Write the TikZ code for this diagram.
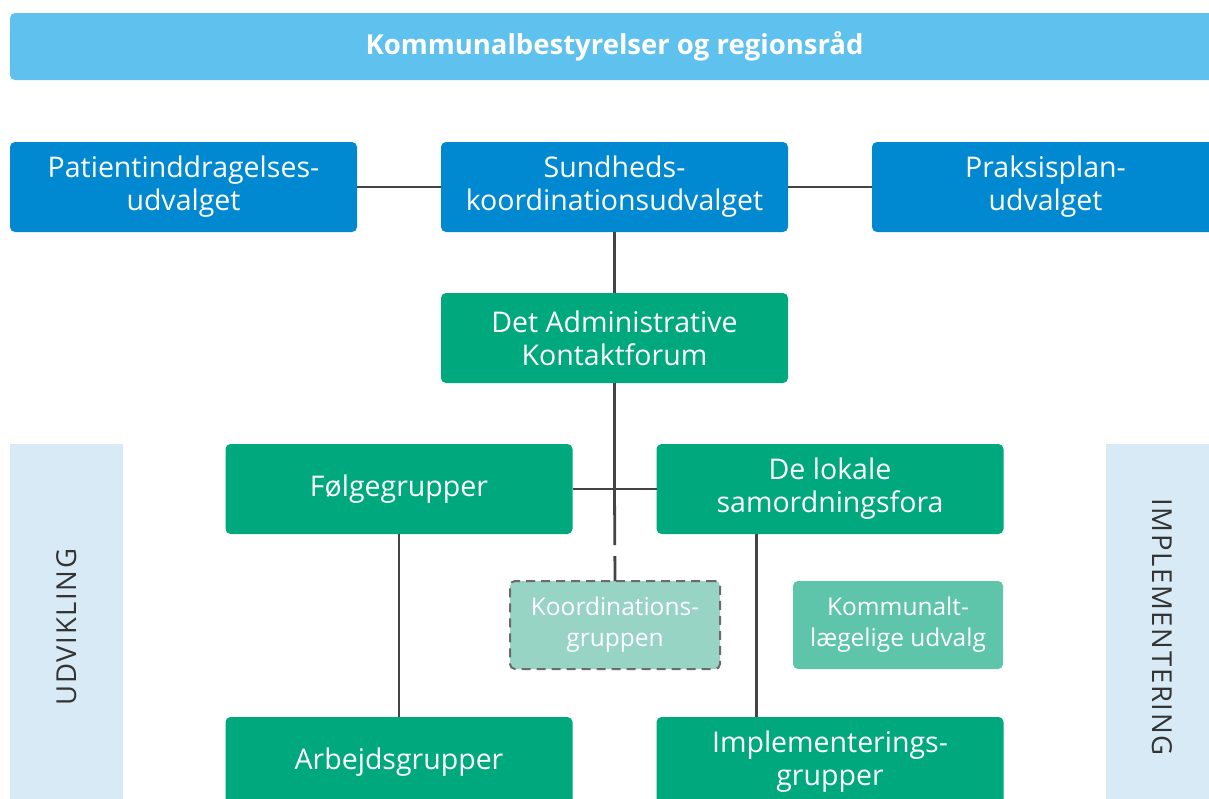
\documentclass[tikz,border=0pt]{standalone}
\usepackage{fontspec}
\setmainfont{Open Sans}
\newfontfamily\sidefont[LetterSpace=6]{Open Sans}

\definecolor{barblue}{HTML}{5EC1EE}
\definecolor{boxblue}{HTML}{0089D1}
\definecolor{boxgreen}{HTML}{00A87E}
\definecolor{palegreen}{HTML}{98D4C4}
\definecolor{midgreen}{HTML}{5EC4AA}
\definecolor{sidewash}{HTML}{D7EAF6}
\definecolor{linkgray}{HTML}{444444}
\definecolor{dashgray}{HTML}{6B6B6B}

\begin{document}
\begin{tikzpicture}[x=1pt, y=-1pt,
  box/.style={rectangle, rounded corners=5pt, minimum width=347pt, minimum height=90pt,
    inner sep=0pt, outer sep=0pt, align=center, text=white, font=\fontsize{28.5}{33}\selectfont},
  smallbox/.style={box, minimum width=210pt, minimum height=88pt, font=\fontsize{24.5}{31}\selectfont},
  side/.style={rectangle, fill=sidewash, minimum width=113pt, minimum height=366pt, inner sep=0pt},
  sidetext/.style={text=black!80, font=\sidefont\fontsize{27.5}{32}\selectfont},
  link/.style={draw=linkgray, line width=2.8pt}]

  \clip (0,0) rectangle (1209,798);

  % Top bar
  \node (top) at (614.5,46.5) [rectangle, rounded corners=5pt, fill=barblue, minimum width=1209pt,
    minimum height=67pt, text=white, font=\bfseries\fontsize{27.5}{30}\selectfont] {Kommunalbestyrelser og regionsråd};

  % Side panels
  \node (udv) at (66.5,627) [side] {};
  \node (imp) at (1162.5,627) [side] {};
  \node[sidetext, rotate=90] at (udv.center) {UDVIKLING};
  \node[sidetext, rotate=-90] at (imp.center) {IMPLEMENTERING};

  % Political level
  \node (pat) at (183.5,187) [box, fill=boxblue] {Patientinddragelses-\\udvalget};
  \node (sun) at (614.5,187) [box, fill=boxblue] {Sundheds-\\koordinationsudvalget};
  \node (pra) at (1045.5,187) [box, fill=boxblue] {Praksisplan-\\udvalget};

  % Administrative level
  \node (dak) at (614.5,338) [box, fill=boxgreen] {Det Administrative\\Kontaktforum};
  \node (folg) at (399,489) [box, fill=boxgreen] {Følgegrupper};
  \node (lok) at (830,489) [box, fill=boxgreen] {De lokale\\samordningsfora};
  \node (koord) at (615,625) [smallbox, fill=palegreen, draw=dashgray, line width=2pt,
    dash pattern=on 9pt off 6pt] {Koordinations-\\gruppen};
  \node (kla) at (898,625) [smallbox, fill=midgreen] {Kommunalt-\\lægelige udvalg};
  \node (arb) at (399,762) [box, fill=boxgreen] {Arbejdsgrupper};
  \node (impl) at (830,762) [box, fill=boxgreen] {Implementerings-\\grupper};
  \coordinate (junc) at (614.5,489);

  % Connections
  \draw[link] (pat) -- (sun);
  \draw[link] (sun) -- (pra);
  \draw[link] (sun) -- (dak);
  \draw[link] (dak) -- (junc);
  \draw[link] (folg) -- (lok);
  \draw[link, dash pattern=on 56pt off 11pt on 40pt] (junc) -- (koord.north);
  \draw[link] (folg) -- (arb);
  \draw[link] ([xshift=100pt]lok.south west) -- ([xshift=100pt]impl.north west);
\end{tikzpicture}
\end{document}
